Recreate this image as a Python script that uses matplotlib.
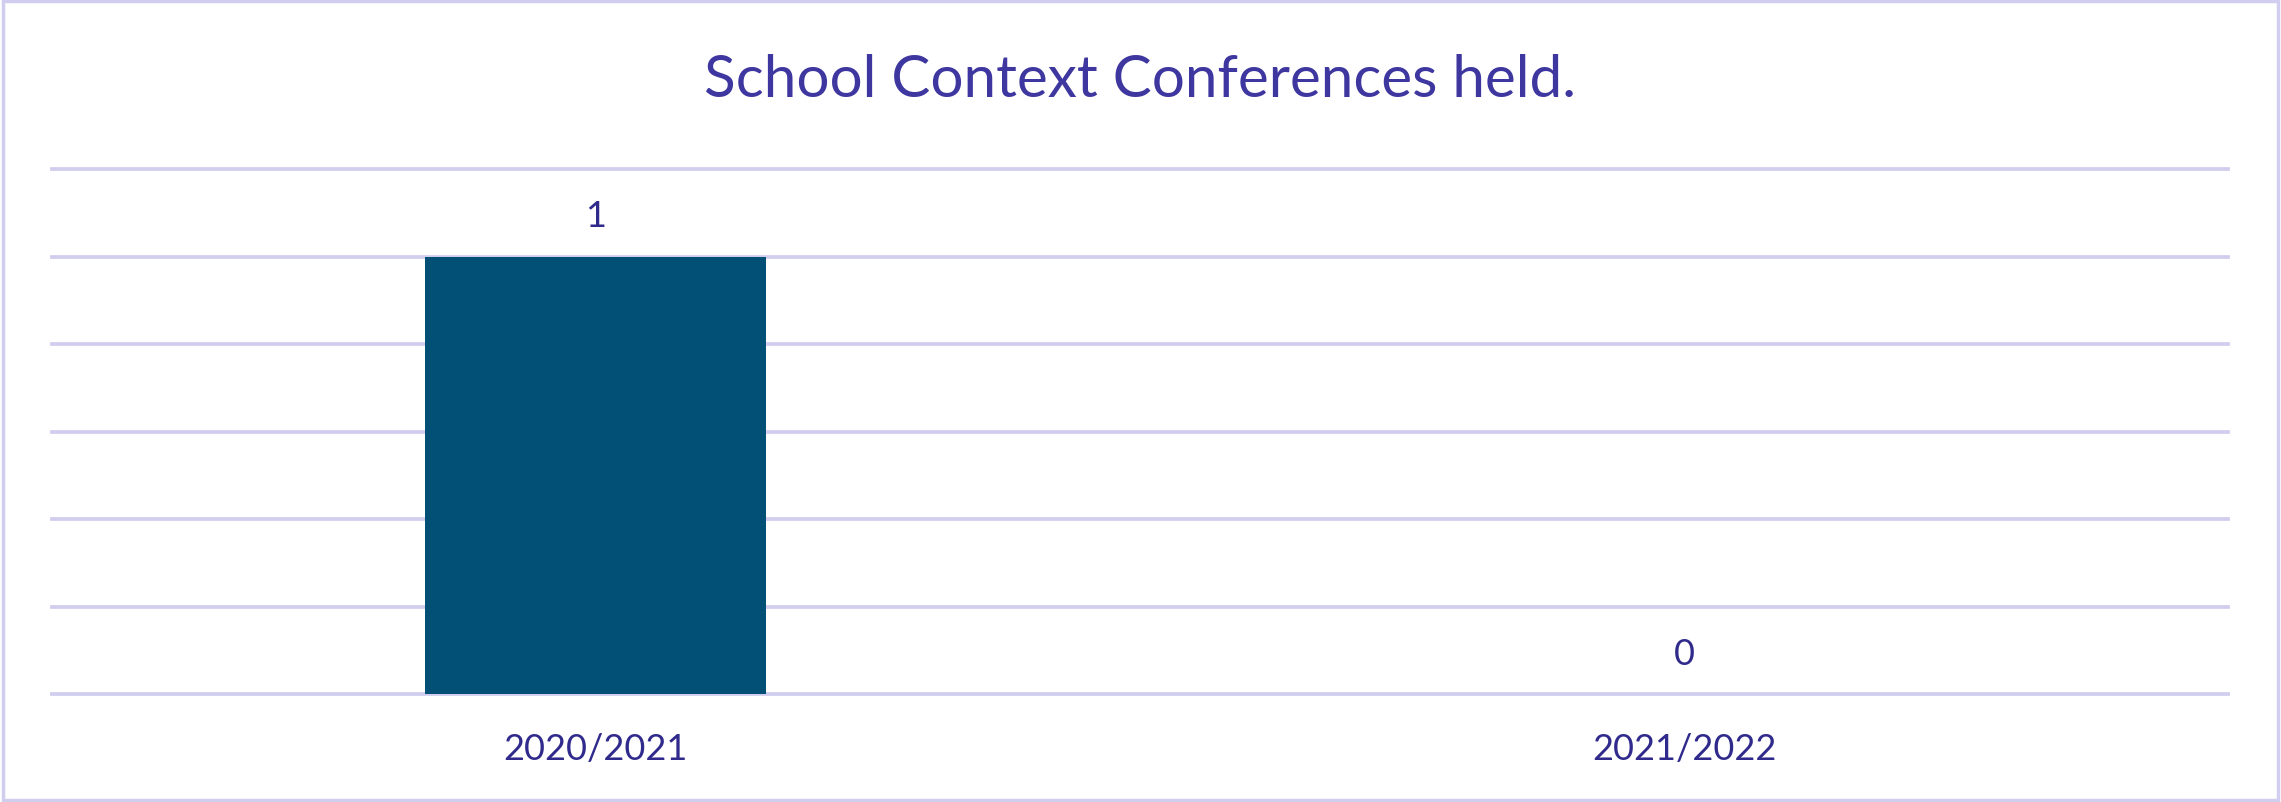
import matplotlib
matplotlib.use("Agg")
from matplotlib import pyplot as plt
from matplotlib.patches import Rectangle

years = ["2020/2021", "2021/2022"]
conferences = [1, 0]

title_color = "#3F37A0"
text_color = "#302A8C"
grid_color = "#D1CDEE"
bar_color = "#025076"

plt.rcParams["font.family"] = ["Lato", "DejaVu Sans"]

fig = plt.figure(figsize=(22.81, 8.03), dpi=100)
ax = fig.add_axes([0.0226, 0.134, 0.9542, 0.654])

x = list(range(len(years)))
ax.bar(x, conferences, width=0.313, color=bar_color, zorder=3)
ax.set_xlim(-0.5, len(years) - 0.5)
ax.set_ylim(0, 1.2)
ax.set_yticks([0, 0.2, 0.4, 0.6, 0.8, 1.0, 1.2])
ax.yaxis.grid(True, color=grid_color, linewidth=2.7, zorder=0)
for gl in ax.get_ygridlines():
    gl.set_clip_on(False)
ax.tick_params(axis="y", left=False, labelleft=False)
ax.tick_params(axis="x", bottom=False, labelsize=26, labelcolor=text_color, pad=23.5)
ax.set_xticks(x)
ax.set_xticklabels(years)
for s in ax.spines.values():
    s.set_visible(False)

for xi, v in zip(x, conferences):
    ax.annotate(str(v), (xi, v), xytext=(0, 22), textcoords="offset points",
                ha="center", va="baseline", fontsize=26, color=text_color)

fig.text(0.5, 0.879, "School Context Conferences held.", ha="center", va="baseline",
         fontsize=42, color=title_color)

fig.patches.append(Rectangle((0.0015, 0.003), 0.997, 0.994, transform=fig.transFigure,
                             fill=False, edgecolor=grid_color, linewidth=2.5))

fig.savefig("out.png", dpi=100, facecolor="white")
